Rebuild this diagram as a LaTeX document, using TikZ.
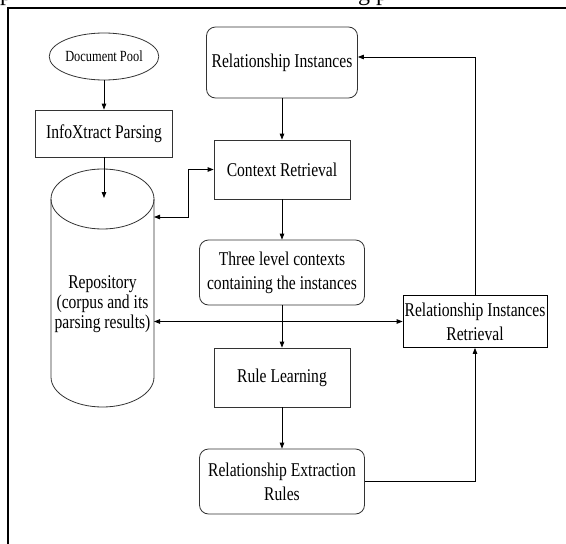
\documentclass[tikz,border=0pt]{standalone}
\usepackage{fontspec}
\newfontfamily\cf[FakeStretch=0.8]{Liberation Serif}
\newfontfamily\tf{Liberation Serif}
\usetikzlibrary{arrows.meta,shapes.geometric,calc}
\tikzset{
  box/.style={draw=black!80, line width=0.8pt, align=center, inner sep=0pt,
    font=\cf\fontsize{19.5}{24}\selectfont},
  rbox/.style={box, rounded corners=9pt},
  ell/.style={draw=black!80, line width=0.8pt, ellipse, inner sep=0pt,
    font=\cf\fontsize{15.5}{18}\selectfont},
  cyl/.style={draw=black!80, line width=0.8pt},
  arr/.style={line width=0.8pt, -{Triangle[length=6pt,width=4.5pt]}},
  dbl/.style={line width=0.8pt, {Triangle[length=6pt,width=4.5pt]}-{Triangle[length=6pt,width=4.5pt]}},
}
\begin{document}
\begin{tikzpicture}[x=1pt,y=-1pt]
\useasboundingbox (0,0) rectangle (566,544);
\begin{scope}
\clip (0,0) rectangle (566,544);
\node[anchor=base west, inner sep=0pt, font=\tf\fontsize{24}{28}\selectfont] (frag1) at (0,0) {p};
\node[anchor=base west, inner sep=0pt, font=\tf\fontsize{24}{28}\selectfont] (frag2) at (358,0) {g p};
\draw[line width=2.3pt] (8,570) -- (8,8) -- (590,8);
\end{scope}

% nodes
\node[ell, minimum width=97pt, minimum height=47pt] (pool) at (104,56.5) {Document Pool};
\node[box, minimum width=137pt, minimum height=47pt] (parse) at (104,133.5) {InfoXtract Parsing};

\node[inner sep=0pt, minimum width=103pt, minimum height=238pt] (repo) at (102.5,288) {};
\draw[cyl] (102.5,199) ellipse [x radius=51.5pt, y radius=30pt];
\draw[cyl] (51,199) -- (51,377) .. controls (51,393.6) and (74.1,407) .. (102.5,407)
  .. controls (130.9,407) and (154,393.6) .. (154,377) -- (154,199);
\node[align=center, inner sep=0pt, font=\cf\fontsize{19.5}{20}\selectfont] (repotext) at (102.5,304)
  {Repository\\(corpus and its\\parsing results)};

\node[rbox, minimum width=151pt, minimum height=71pt] (relinst) at (282,62.5) {Relationship Instances};
\node[box, minimum width=136pt, minimum height=59pt] (ctx) at (282,169.5) {Context Retrieval};
\node[rbox, minimum width=165pt, minimum height=65pt] (three) at (282,272.5) {Three level contexts\\containing the instances};
\node[box, minimum width=136pt, minimum height=59pt] (rule) at (282,377.5) {Rule Learning};
\node[rbox, minimum width=165pt, minimum height=65pt] (rex) at (282,481.5) {Relationship Extraction\\Rules};
\node[box, draw=black, minimum width=144pt, minimum height=52pt] (rir) at (475,321.5) {Relationship Instances\\Retrieval};

% coordinates
\coordinate (repotop) at (104,198);
\coordinate (cylA) at (154,217);
\coordinate (cylB) at (154,321.5);
\coordinate (bend) at (188,217);

% connectors
\draw[arr] (pool.south) -- (parse.north);
\draw[arr] (parse.south) -- (repotop);
\draw[arr] (relinst.south) -- (ctx.north);
\draw[arr] (ctx.south) -- (three.north);
\draw[arr] (three.south) -- (rule.north);
\draw[arr] (rule.south) -- (rex.north);
\draw[dbl] (cylA) -- (bend) |- (ctx.west);
\draw[dbl] (cylB) -- (rir.west);
\draw[arr] (rex.east) -| (rir.south);
\draw[arr] (rir.north) |- ($(relinst.east)+(0,-5.5)$);
\end{tikzpicture}
\end{document}
